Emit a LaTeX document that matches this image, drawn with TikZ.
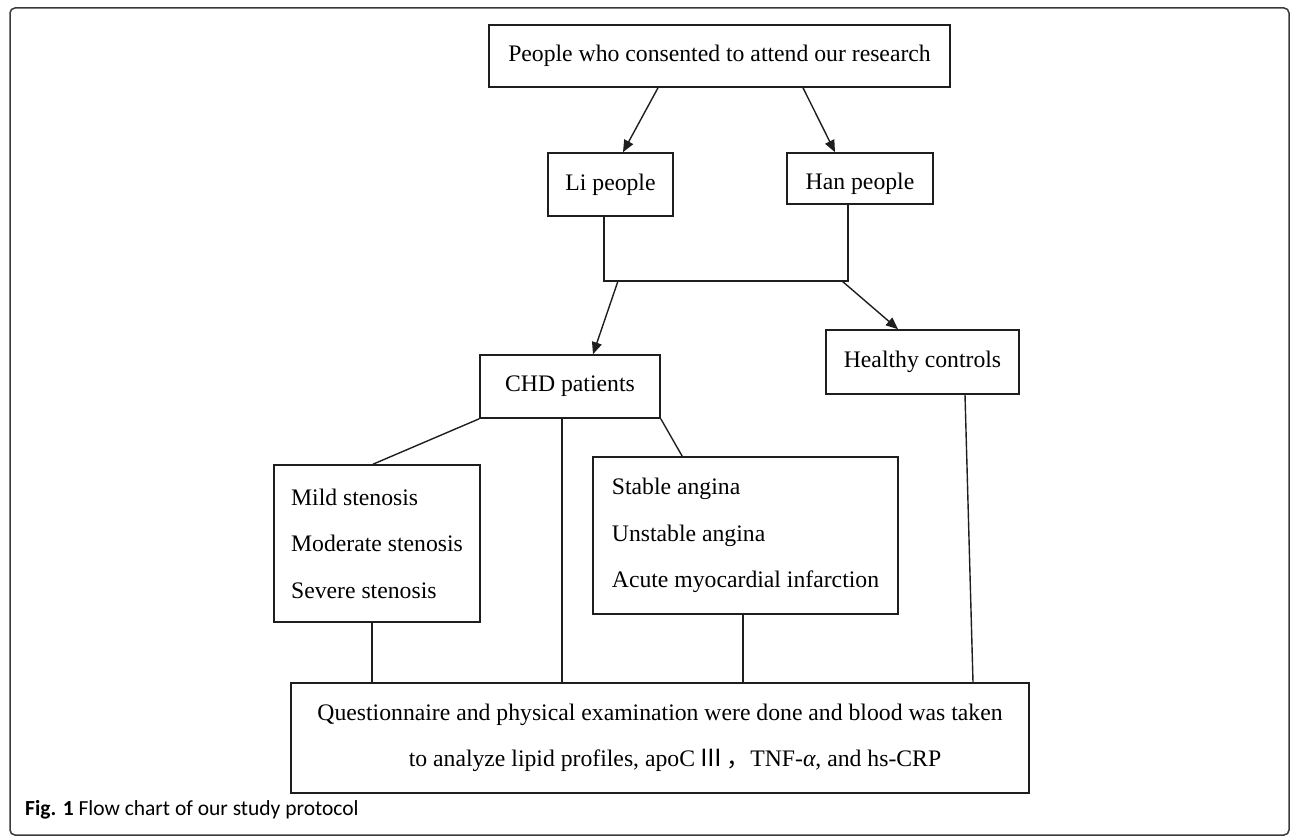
\documentclass[tikz,border=0pt]{standalone}
\usepackage{fontspec}
\setmainfont{Liberation Serif}
\newfontfamily\capfont{Carlito}
\newfontfamily\cjk{Noto Sans CJK SC}
\usetikzlibrary{arrows.meta,positioning,calc}
\definecolor{ink}{HTML}{1e1e1e}
\definecolor{frame}{HTML}{3a3a3a}

\begin{document}
\begin{tikzpicture}[
  x=1pt, y=-1pt, >={Triangle[length=12pt,width=10pt]},
  blk/.style={draw=ink, line width=1.6pt, inner sep=0pt, align=center,
    font=\fontsize{23.7}{46.5}\selectfont},
  lst/.style={blk, align=left},
  conn/.style={draw=ink, line width=1.4pt}]
  \useasboundingbox (0,0) rectangle (1290,837);
  \draw[frame, line width=1.5pt, rounded corners=5pt] (10,8) rectangle (1289,835);

  \node[blk, minimum width=461pt, minimum height=62pt] (top) at (719.5,56) {People who consented to attend our research};
  \node[blk, minimum width=125pt, minimum height=63pt] (li) at (610.5,184.5) {Li people};
  \node[blk, minimum width=146pt, minimum height=51pt, text height=27pt, text depth=4pt] (han) at (860,178.5) {Han people};
  \node[blk, minimum width=180pt, minimum height=63pt] (chd) at (570,386.5) {CHD patients};
  \node[blk, minimum width=193pt, minimum height=64pt] (healthy) at (922.5,362) {Healthy controls};
  \node[lst, minimum width=206pt, minimum height=157pt] (sten) at (377,543.5) {Mild stenosis\\ Moderate stenosis\\ Severe stenosis};
  \node[lst, minimum width=305pt, minimum height=157pt] (angina) at (745.5,535.5) {Stable angina\\ Unstable angina\\ Acute myocardial infarction};
  \node[blk, minimum width=738pt, minimum height=110pt] (exam) at (660,738) {Questionnaire and physical examination were done and blood was taken\\
    \hspace*{30pt}to analyze lipid profiles, apoC\,{\cjk Ⅲ}\,{\cjk ，}TNF-{\itshape α}, and hs-CRP};

  \coordinate (bl) at (604,281);
  \coordinate (br) at (848,281);

  % split
  \draw[conn, ->] ([xshift=-61.5pt]top.south) -- ([xshift=12.5pt]li.north);
  \draw[conn, ->] ([xshift=83.5pt]top.south) -- ([xshift=-25pt]han.north);
  \draw[conn] ([xshift=-6.5pt]li.south) -- (bl) -- (br) -- ([xshift=-12pt]han.south);
  \draw[conn, ->] ([xshift=14pt]bl) -- ([xshift=23pt]chd.north);
  \draw[conn, ->] ([xshift=-6pt]br) -- ([xshift=-24.5pt]healthy.north);

  % subgroups
  \draw[conn] (chd.south west) -- ([xshift=-4pt]sten.north);
  \draw[conn] (chd.south east) -- ([xshift=90pt]angina.north west);
  \draw[conn] ([xshift=-8pt]chd.south) -- ([xshift=-8pt]chd.south |- exam.north);
  \draw[conn] ([xshift=-5pt]sten.south) -- ([xshift=-5pt]sten.south |- exam.north);
  \draw[conn] ([xshift=-2.5pt]angina.south) -- ([xshift=-2.5pt]angina.south |- exam.north);
  \draw[conn] ([xshift=42.5pt]healthy.south) -- ([xshift=313pt]exam.north);

  \node[anchor=base west, inner sep=0pt, font=\capfont\fontsize{21.5}{24}\selectfont] (cap) at (25,815)
    {\textbf{Fig. 1} Flow chart of our study protocol};
\end{tikzpicture}
\end{document}
